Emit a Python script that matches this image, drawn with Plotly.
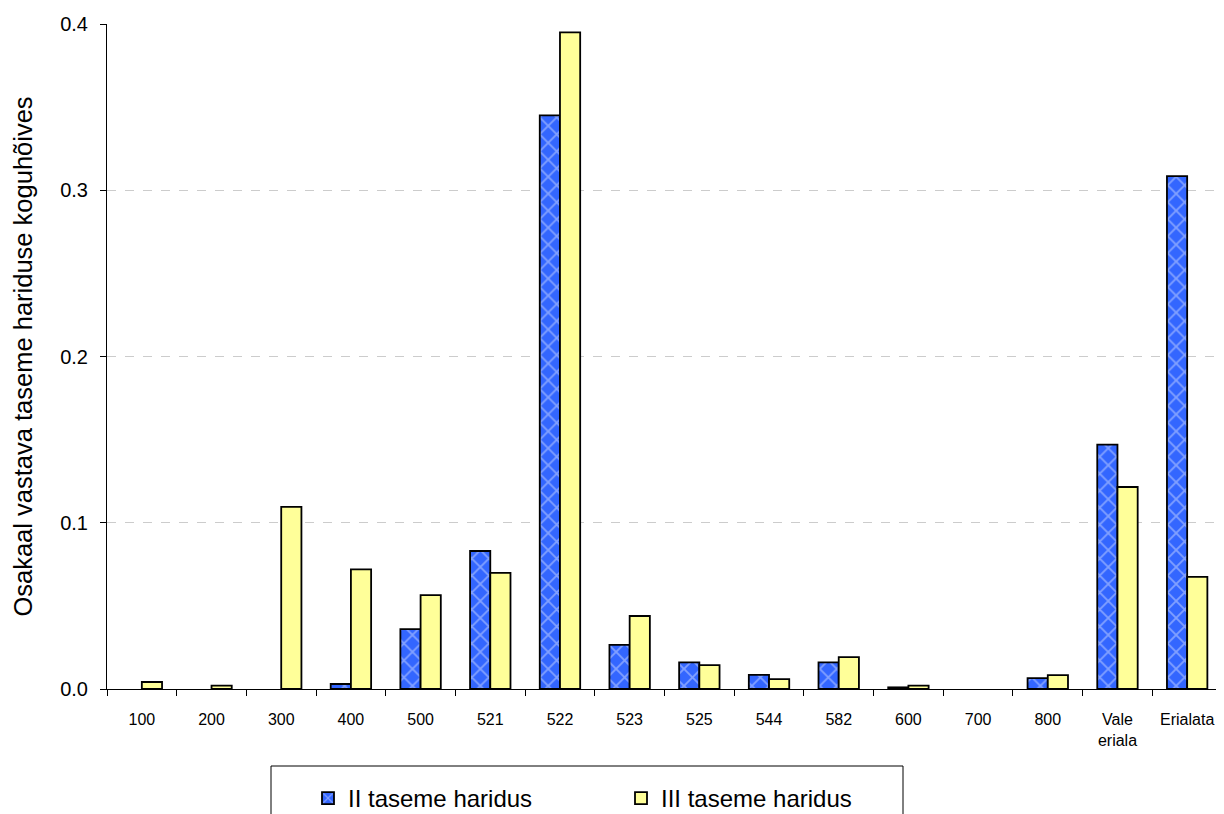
import plotly.graph_objects as go

categories = ["100", "200", "300", "400", "500", "521", "522", "523", "525", "544",
              "582", "600", "700", "800", "Vale<br>eriala", "Erialata"]
ii_taseme = [None, None, None, 0.003, 0.036, 0.083, 0.345, 0.0265, 0.016, 0.0085,
             0.016, 0.001, None, 0.0066, 0.147, 0.3085]
iii_taseme = [0.0042, 0.002, 0.1095, 0.072, 0.0565, 0.0698, 0.395, 0.0439, 0.0144, 0.006,
              0.0192, 0.002, None, 0.0084, 0.1215, 0.0674]
y_ticks = [0.0, 0.1, 0.2, 0.3, 0.4]

W, H = 1216, 806
L, R, T, B = 99, 2, 16, 125
PW, PH = W - L - R, H - T - B

def px_x(x):
    return (x - 8 - L) / PW

def px_y(y):
    return 1 - (y - 8 - T) / PH

fig = go.Figure()
fig.add_trace(go.Bar(
    x=categories, y=ii_taseme, name="II taseme haridus",
    marker=dict(color="#3366FF", line=dict(color="black", width=1.8),
                pattern=dict(shape="x", fgcolor="#D0DAFF", bgcolor="#3366FF", size=12, solidity=0.28)),
))
fig.add_trace(go.Bar(
    x=categories, y=iii_taseme, name="III taseme haridus",
    marker=dict(color="#FFFF99", line=dict(color="black", width=1.8)),
))

fig.add_shape(type="rect", xref="paper", yref="paper",
              x0=px_x(271), x1=px_x(903), y0=px_y(830), y1=px_y(766),
              line=dict(color="black", width=1), fillcolor="rgba(0,0,0,0)")

fig.update_layout(
    width=W, height=H,
    margin=dict(l=L, r=R, t=T, b=B, autoexpand=False),
    paper_bgcolor="white", plot_bgcolor="white",
    barmode="group", bargap=0.42, bargroupgap=0,
    font=dict(family="Liberation Sans, Arial, sans-serif", color="black"),
    showlegend=True,
    legend=dict(orientation="h", x=px_x(308), xanchor="left", y=px_y(776), yanchor="top",
                borderwidth=0, bgcolor="rgba(0,0,0,0)",
                font=dict(size=24, family="Liberation Sans, Arial, sans-serif"),
                entrywidth=268, itemwidth=30, traceorder="normal"),
)
fig.update_xaxes(
    showline=True, linecolor="black", linewidth=1,
    ticks="outside", ticklen=6, tickcolor="black", tickson="boundaries",
    tickfont=dict(size=16), showgrid=False, ticklabelstandoff=16,
)
fig.update_yaxes(
    range=[0, 0.4], tickvals=y_ticks, tickformat=".1f",
    showline=True, linecolor="black", linewidth=1,
    ticks="outside", ticklen=6, tickcolor="black",
    tickfont=dict(size=20), ticklabelstandoff=8,
    showgrid=True, gridcolor="#CCCCCC", griddash="dash", gridwidth=1,
    zeroline=False,
    title=dict(text="Osakaal vastava taseme hariduse koguhõives", font=dict(size=25.5), standoff=20),
)

fig.write_html("out.html")
